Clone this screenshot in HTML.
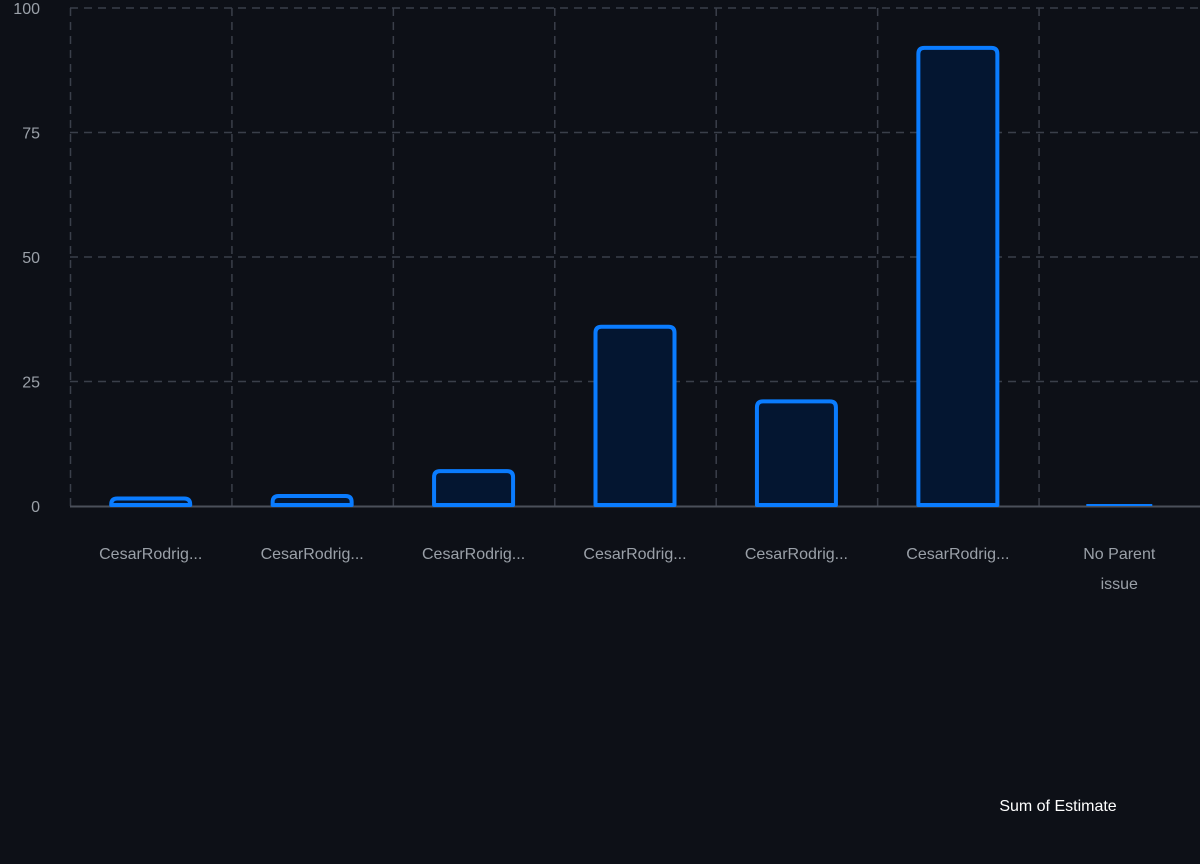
<!DOCTYPE html>
<html><head><meta charset="utf-8"><style>
html,body{margin:0;padding:0;background:#0d1017;}
svg{display:block;font-family:"Liberation Sans",sans-serif;}
</style></head><body>
<svg id="chart" width="1200" height="864">
<rect width="1200" height="864" fill="#0d1017"/>
<g id="grid"></g><g id="bars"></g><g id="labels"></g>
<text x="1058" y="811" fill="#ffffff" font-size="16" text-anchor="middle">Sum of Estimate</text>
</svg>
<script>
const categories = ["CesarRodrig...","CesarRodrig...","CesarRodrig...","CesarRodrig...","CesarRodrig...","CesarRodrig...","No Parent|issue"];
const values = [1.5, 2, 7, 36, 21, 92, 0];
const yTicks = [0, 25, 50, 75, 100];
const NS="http://www.w3.org/2000/svg";
const L=70,R=1200,T=8,B=506,yMax=100;
const bw=(R-L)/categories.length;
function y(v){return B-(v/yMax)*(B-T);}
function x(i){return L+bw*i;}
function mk(t,a,p){const e=document.createElementNS(NS,t);for(const k in a)e.setAttribute(k,a[k]);p.appendChild(e);return e;}
const grid=document.getElementById('grid'),bars=document.getElementById('bars'),labels=document.getElementById('labels');
yTicks.forEach(t=>{
  if(t>0){const g=mk('line',{x1:L,x2:R,y1:y(t),y2:y(t),stroke:'#3a3f4a','stroke-width':1.5,'stroke-dasharray':'8,6'},grid);
  
  }
  const tx=mk('text',{x:40,y:y(t)+6,fill:'#9aa0a8','font-size':16,'text-anchor':'end'},labels);
  tx.textContent=t;
  
  
});
for(let i=0;i<categories.length;i++){
  const g=mk('line',{x1:x(i)+0.5,x2:x(i)+0.5,y1:T,y2:B,stroke:'#3a3f4a','stroke-width':1.5,'stroke-dasharray':'8,6'},grid);
  
  
}
const ax=mk('line',{x1:L,x2:R,y1:B+0.5,y2:B+0.5,stroke:'#4a4f5a','stroke-width':2},grid);


values.forEach((v,i)=>{
  const cx=x(i)+bw/2;
  if(v>0){
    const w=79,top=y(v),h=B-1-top;
    const r=Math.min(6,h);
    const d=`M${cx-w/2},${B-1} V${top+r} Q${cx-w/2},${top} ${cx-w/2+r},${top} H${cx+w/2-r} Q${cx+w/2},${top} ${cx+w/2},${top+r} V${B-1}`;
    const b=mk('path',{d:d+' Z',fill:'#041631',stroke:'#0a7cff','stroke-width':4,'stroke-linejoin':'round'},bars);
    
    
  } else {
    const b=mk('line',{x1:cx-33,x2:cx+33,y1:B-1,y2:B-1,stroke:'#0a7cff','stroke-width':2},bars);
    
    
  }
  categories[i].split('|').forEach((ln,j)=>{
    const t=mk('text',{x:cx,y:559+j*30,fill:'#9aa0a8','font-size':16,'text-anchor':'middle'},labels);
    t.textContent=ln;
    
    
  });
});
</script>
</body></html>
